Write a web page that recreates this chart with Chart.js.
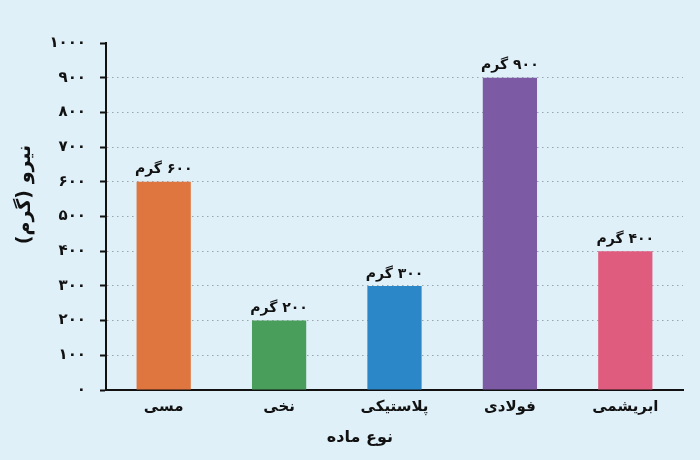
<!DOCTYPE html>
<html>
<head>
<meta charset="utf-8">
<script src="https://cdn.jsdelivr.net/npm/chart.js@4.4.1/dist/chart.umd.min.js"></script>
<style>
html,body{margin:0;padding:0;background:#dff0f9;}
#wrap{width:700px;height:460px;}
</style>
</head>
<body>
<div id="wrap"><canvas id="c" dir="rtl" width="700" height="460"></canvas></div>
<script>
const categories = ['مسی', 'نخی', 'پلاستیکی', 'فولادی', 'ابریشمی'];
const values = [600, 200, 300, 900, 400];
const barColors = ['#e0763f', '#4a9e5c', '#2b87c7', '#7d5ba4', '#e05c7f'];
const yTickValues = [0, 100, 200, 300, 400, 500, 600, 700, 800, 900, 1000];
const unitLabel = 'گرم';
const yTitle = 'نیرو (گرم)';
const xTitle = 'نوع ماده';

const faDigits = '۰۱۲۳۴۵۶۷۸۹';
function toFa(n){ return String(n).replace(/[0-9]/g, d => faDigits[+d]); }

const FONT = '"DejaVu Sans", "Noto Sans", sans-serif';

const extras = {
  id: 'extras',
  afterDatasetsDraw(chart){
    const ctx = chart.ctx;
    const meta = chart.getDatasetMeta(0);
    ctx.save();
    ctx.fillStyle = '#111';
    ctx.font = 'bold 14px ' + FONT;
    ctx.textAlign = 'center';
    ctx.textBaseline = 'bottom';
    meta.data.forEach((bar, i) => {
      ctx.fillText(toFa(values[i]) + ' ' + unitLabel, bar.x, bar.y - 5);
    });
    ctx.restore();
  },
  afterDraw(chart){
    const ctx = chart.ctx;
    const a = chart.chartArea;
    ctx.save();
    ctx.fillStyle = '#111';
    ctx.font = 'bold 16px ' + FONT;
    ctx.textAlign = 'center';
    ctx.textBaseline = 'middle';
    ctx.fillText(xTitle, a.left + a.width * 0.44, 438);
    ctx.font = 'bold 19px ' + FONT;
    ctx.translate(25, (a.top + a.bottom) / 2 - 22);
    ctx.rotate(-Math.PI / 2);
    ctx.fillText(yTitle, 0, 0);
    ctx.restore();
  }
};

new Chart(document.getElementById('c'), {
  type: 'bar',
  data: {
    labels: categories,
    datasets: [{
      data: values,
      backgroundColor: barColors,
      borderWidth: 0,
      barPercentage: 0.47,
      categoryPercentage: 1
    }]
  },
  options: {
    responsive: false,
    animation: false,
    devicePixelRatio: 1,
    layout: { padding: { top: 43, right: 17, left: 0, bottom: 0 } },
    plugins: { legend: { display: false }, tooltip: { enabled: false } },
    scales: {
      x: {
        afterFit: s => { s.height = 70; },
        grid: { display: false, drawTicks: false },
        border: { display: true, color: '#111', width: 2 },
        ticks: { color: '#111', padding: 8, font: { family: FONT, size: 15, weight: 'bold' } }
      },
      y: {
        min: 0, max: 1000,
        afterFit: s => { s.width = 106; },
        afterBuildTicks: s => { s.ticks = yTickValues.map(v => ({ value: v })); },
        grid: {
          color: c => (c.tick && (c.tick.value === 0 || c.tick.value === 1000)) ? 'rgba(0,0,0,0)' : '#98a6ad',
          lineWidth: 1,
          tickLength: 6,
          tickColor: '#111',
          tickWidth: 2,
          tickBorderDash: []
        },
        border: { display: true, color: '#111', width: 2, dash: [1.5, 3.5], dashOffset: 0 },
        ticks: {
          color: '#111', padding: 14,
          font: { family: FONT, size: 15, weight: 'bold' },
          callback: v => toFa(v)
        }
      }
    }
  },
  plugins: [extras]
});
</script>
</body>
</html>
